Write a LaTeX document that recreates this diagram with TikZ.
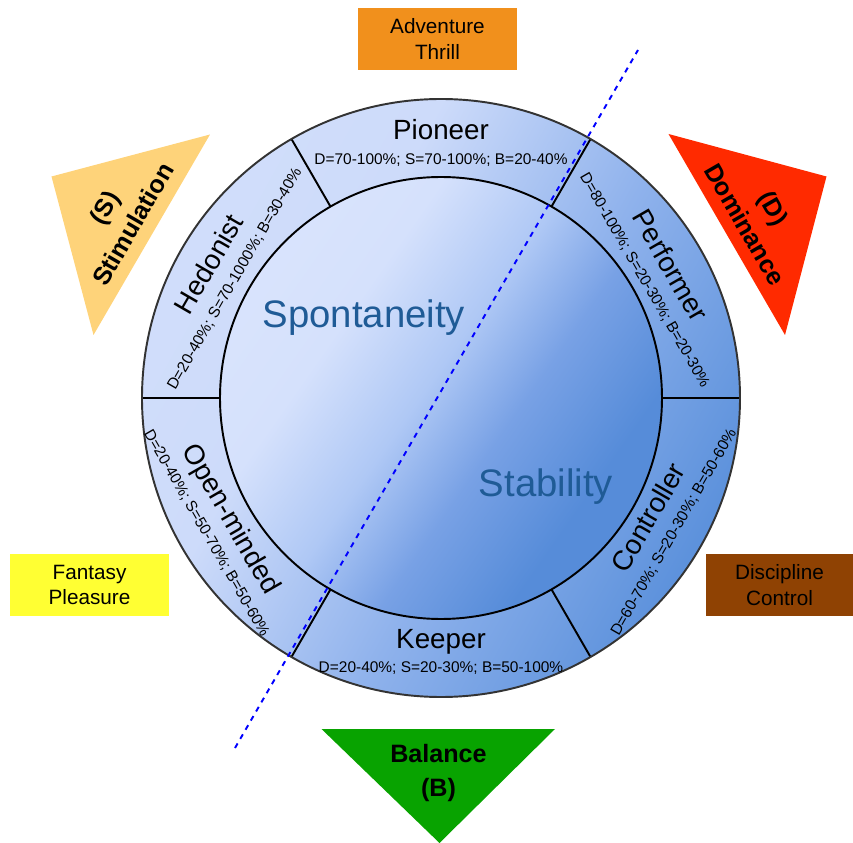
\documentclass[tikz,border=0pt]{standalone}
\usepackage{fontspec}
\setmainfont{Liberation Sans}
\usepackage{pgf,tikz}
\usetikzlibrary{calc}

\definecolor{ringlight}{RGB}{215,226,252}
\definecolor{ringpale}{RGB}{205,219,250}
\definecolor{ringmid}{RGB}{143,178,236}
\definecolor{ringdark}{RGB}{84,140,217}
\definecolor{corelight}{RGB}{225,233,254}
\definecolor{corepale}{RGB}{213,225,252}
\definecolor{coremid}{RGB}{175,200,245}
\definecolor{corelow}{RGB}{120,161,229}
\definecolor{coredark}{RGB}{86,140,217}
\definecolor{coreword}{RGB}{31,91,150}
\definecolor{advc}{RGB}{241,144,28}
\definecolor{fanc}{RGB}{255,255,51}
\definecolor{disc}{RGB}{143,66,3}
\definecolor{stimc}{RGB}{254,211,122}
\definecolor{domc}{RGB}{255,42,0}
\definecolor{balc}{RGB}{8,163,0}

\pgfdeclareverticalshading{ringfade}{100bp}{color(0bp)=(ringdark); color(22bp)=(ringdark);
  color(44bp)=(ringmid); color(62bp)=(ringpale); color(100bp)=(ringlight)}
\pgfdeclareverticalshading{corefade}{100bp}{color(0bp)=(coredark); color(30bp)=(coredark);
  color(42bp)=(corelow); color(52bp)=(coremid); color(64bp)=(corepale); color(100bp)=(corelight)}

\newcommand{\segtxt}[2]{{\fontsize{15.8}{14}\selectfont #1}\\#2}

\tikzset{
  seg/.style={align=center,inner sep=0pt,font=\fontsize{8.8}{14}\selectfont},
  core/.style={font=\fontsize{21.8}{24}\selectfont,text=coreword},
  box/.style={minimum width=3.18cm,minimum height=1.24cm,inner sep=0pt,align=center,
    font=\fontsize{11.8}{14.5}\selectfont},
  tri/.style={align=center,font=\fontsize{14.3}{18.8}\selectfont\bfseries}
}

\begin{document}
\begin{tikzpicture}
\useasboundingbox (-8.82,-8.9) rectangle (8.24,7.96);

\shade[shading=ringfade,shading angle=61] (0,0) circle (5.98);
\shade[shading=corefade,shading angle=55] (0,0) circle (4.42);

\foreach \a in {0,60,...,300}
  \draw[line width=1.1pt] (\a:4.42) -- (\a:5.98);
\draw[line width=1.1pt,black!80] (0,0) circle (5.98);
\draw[line width=1.1pt] (0,0) circle (4.42);

\draw[blue,dashed,line width=1.1pt] (-4.12,-7.0) -- (3.94,6.96);

\node[core] (spont) at (-1.54,1.6) {Spontaneity};
\node[core] (stab) at (2.1,-1.78) {Stability};

\node[seg] (pio) at (90:5.1) {\segtxt{Pioneer}{D=70-100\%; S=70-100\%; B=20-40\%}};
\node[seg,rotate=60] (hed) at (150:5.1) {\segtxt{Hedonist}{D=20-40\%; S=70-1000\%; B=30-40\%}};
\node[seg,rotate=-60] (perf) at (30:5.04) {\segtxt{Performer}{D=80-100\%; S=20-30\%; B=20-30\%}};
\node[seg,rotate=-60] (open) at (210:5.08) {\segtxt{Open-minded}{D=20-40\%; S=50-70\%; B=50-60\%}};
\node[seg] (keep) at (270:5.08) {\segtxt{Keeper}{D=20-40\%; S=20-30\%; B=50-100\%}};
\node[seg,rotate=60] (ctrl) at (330:5.04) {\segtxt{Controller}{D=60-70\%; S=20-30\%; B=50-60\%}};

\node[box,fill=advc] (adv) at (-0.07,7.18) {Adventure\\Thrill};
\node[box,fill=fanc] (fan) at (-7.03,-3.74) {Fantasy\\Pleasure};
\node[box,fill=disc,minimum width=2.94cm] (dis) at (6.77,-3.74) {Discipline\\Control};

\fill[stimc] (-7.79,4.43) -- (-4.62,5.27) -- (-6.95,1.26) -- cycle;
\fill[domc] (4.55,5.28) -- (7.71,4.43) -- (6.88,1.26) -- cycle;
\fill[balc] (-2.39,-6.62) -- (2.28,-6.62) -- (-0.03,-8.9) -- cycle;

\node[tri,rotate=60] (S) at (-6.45,3.64) {(S)\\Stimulation};
\node[tri,rotate=-60] (D) at (6.37,3.64) {(D)\\Dominance};
\node[tri] (B) at (-0.05,-7.5) {Balance\\(B)};
\end{tikzpicture}
\end{document}
